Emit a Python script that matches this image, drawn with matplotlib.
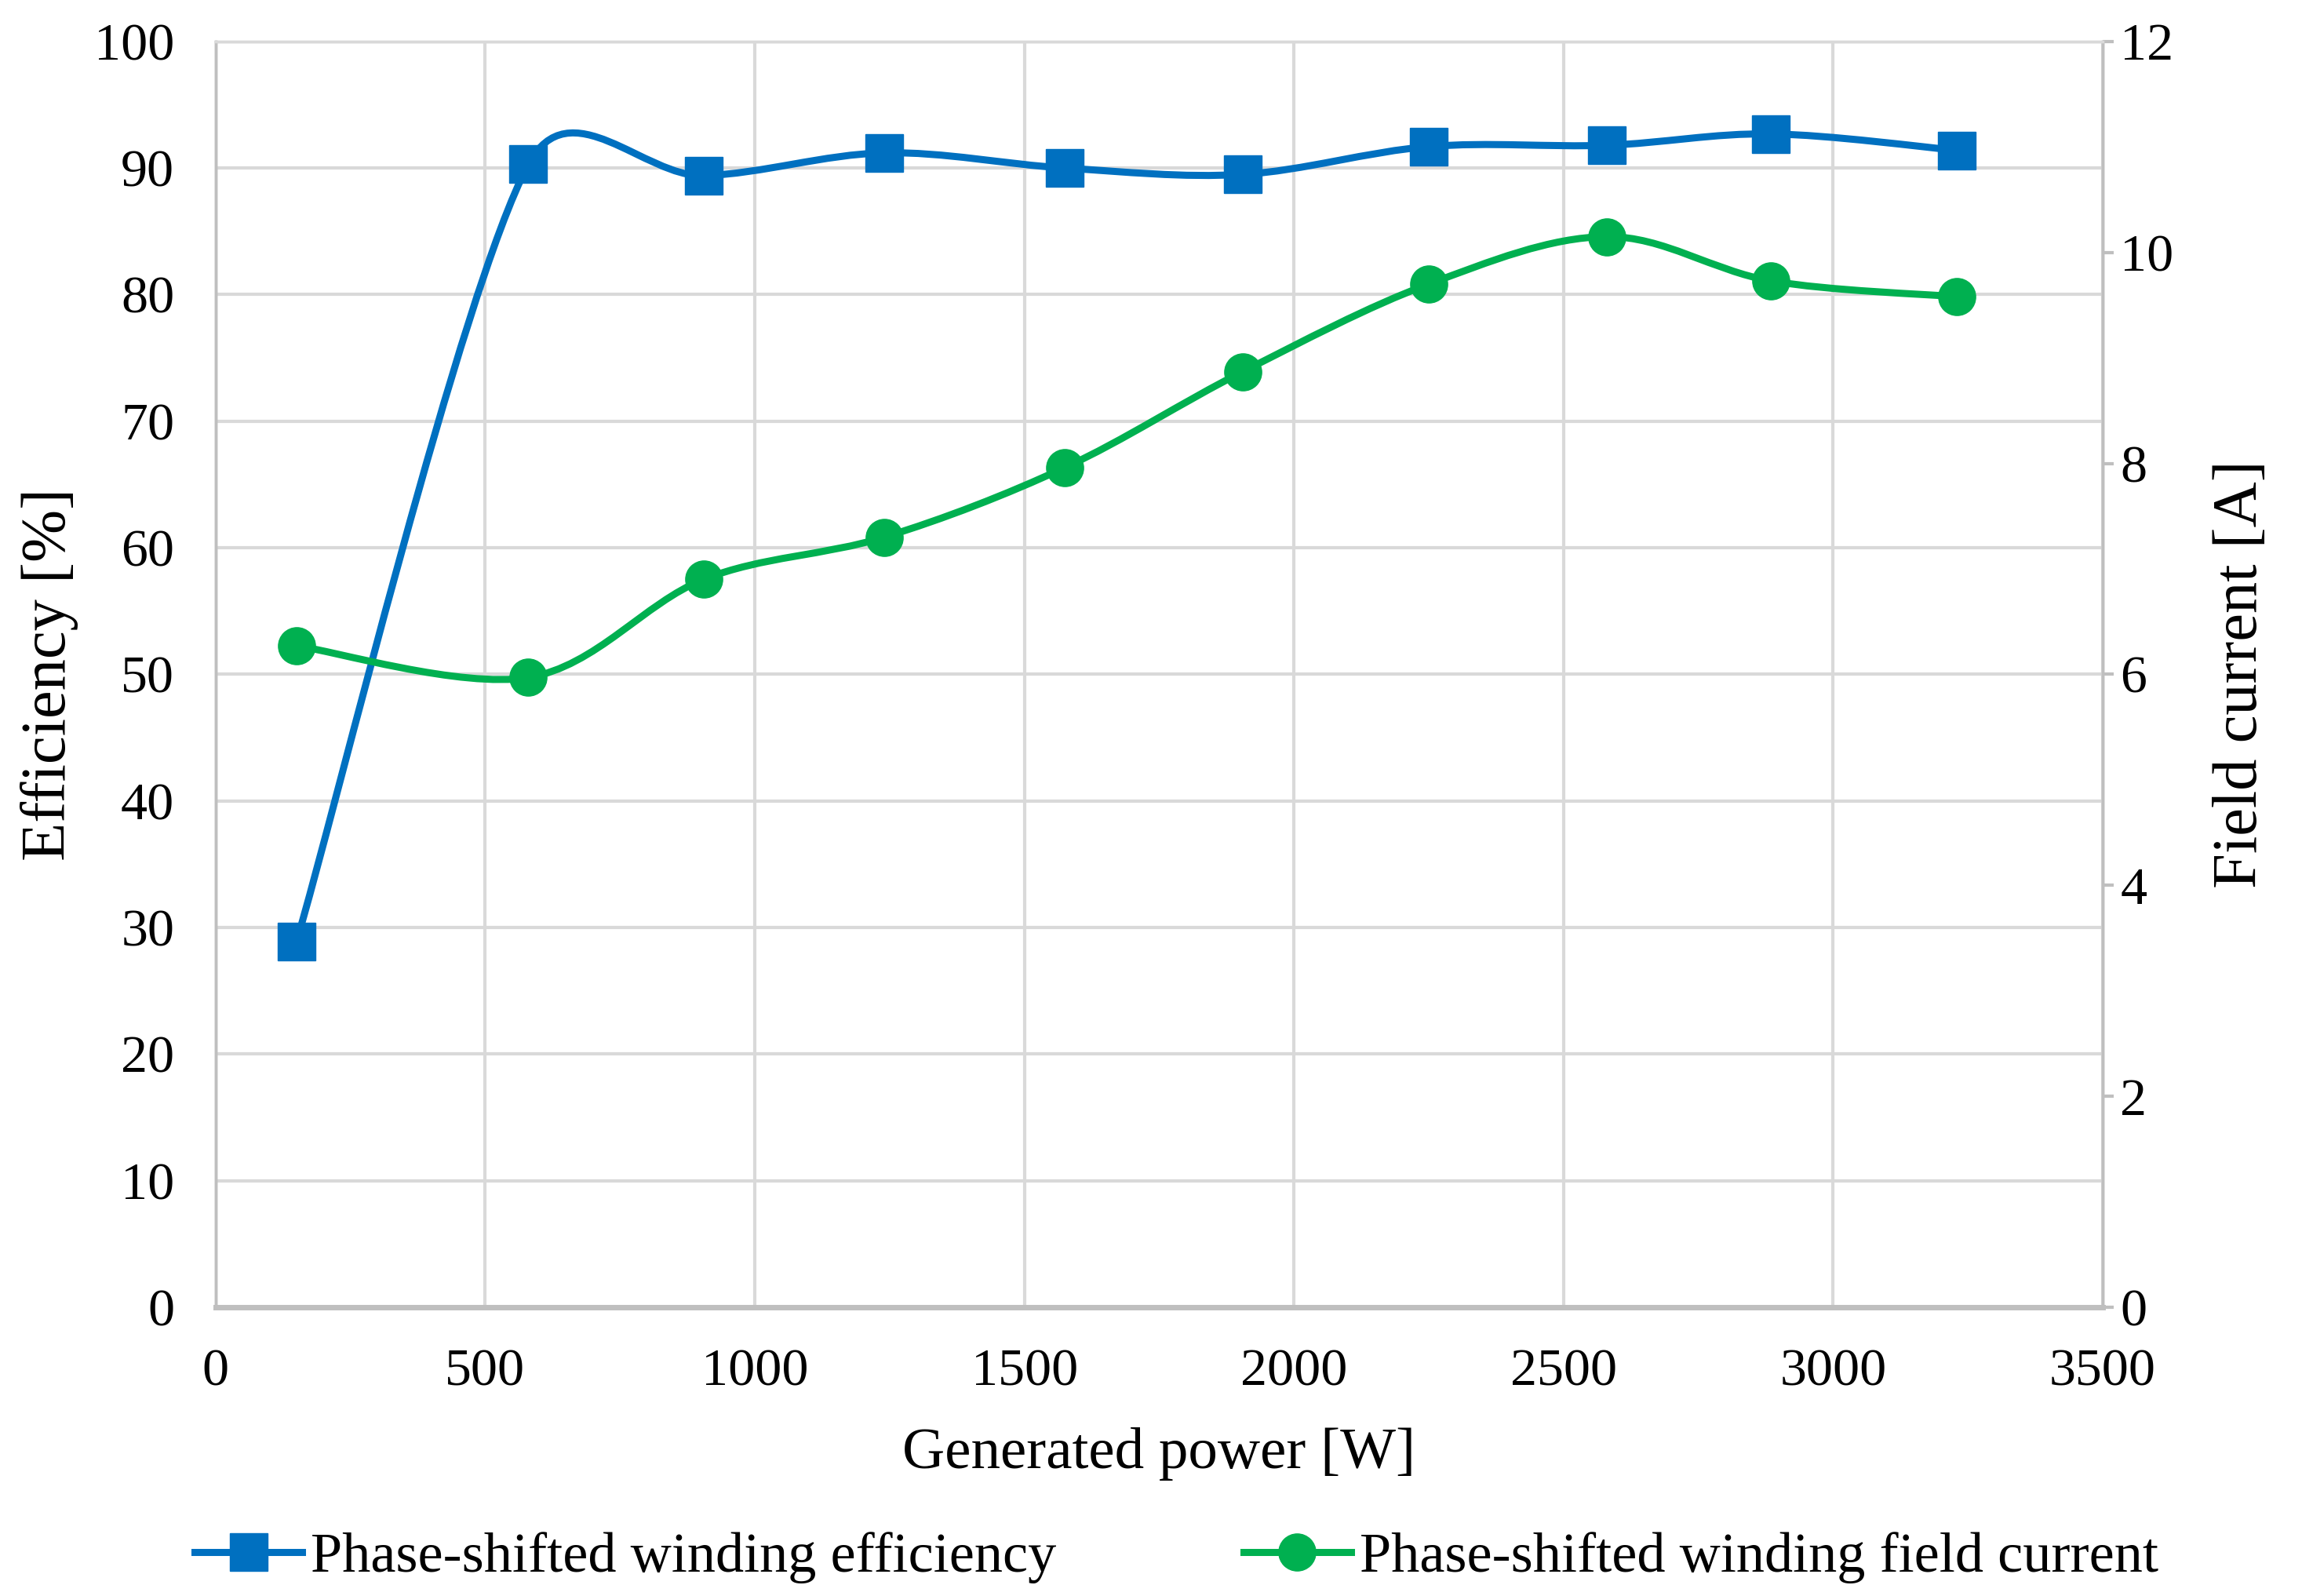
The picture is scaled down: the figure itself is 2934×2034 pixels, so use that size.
import numpy as np
import matplotlib
matplotlib.use('Agg')
import matplotlib.pyplot as plt
from matplotlib.path import Path
from matplotlib.patches import PathPatch
from matplotlib.lines import Line2D

# data
power = [150, 580, 905, 1240, 1575, 1905, 2250, 2580, 2885, 3230]
efficiency = [28.9, 90.3, 89.4, 91.2, 90.0, 89.5, 91.7, 91.8, 92.7, 91.4]
field_current = [6.27, 5.97, 6.90, 7.30, 7.96, 8.87, 9.70, 10.15, 9.73, 9.58]

x_ticks = [0, 500, 1000, 1500, 2000, 2500, 3000, 3500]
left_ticks = [0, 10, 20, 30, 40, 50, 60, 70, 80, 90, 100]
right_ticks = [0, 2, 4, 6, 8, 10, 12]

blue = '#0070C0'
green = '#00B050'
grid_col = '#D9D9D9'

plt.rcParams['font.family'] = ['Liberation Serif', 'DejaVu Serif']
fs_tick = 49
fs_lab = 54
fs_vlab = 58
fs_leg = 52


def smooth_path(a, xs, ys):
    # excel-like smoothing, done in pixel space then mapped back to data
    tr = a.transData
    p = tr.transform(np.column_stack([xs, ys]).astype(float))
    pts = np.vstack([p[0], p, p[-1]])
    verts = [p[0]]
    codes = [Path.MOVETO]
    for i in range(1, len(pts) - 2):
        p0, p1, p2, p3 = pts[i - 1], pts[i], pts[i + 1], pts[i + 2]
        d12 = np.hypot(*(p2 - p1))
        d02 = np.hypot(*(p2 - p0))
        d13 = np.hypot(*(p3 - p1))
        f0 = 1 / 6.0
        f1 = 1 / 6.0
        if d02 / 6.0 > d12 / 2.0 and d02 > 0:
            f0 = d12 / d02 / 2.0
        if d13 / 6.0 > d12 / 2.0 and d13 > 0:
            f1 = d12 / d13 / 2.0
        c1 = p1 + f0 * (p2 - p0)
        c2 = p2 - f1 * (p3 - p1)
        verts += [c1, c2, p2]
        codes += [Path.CURVE4] * 3
    verts = tr.inverted().transform(np.array(verts))
    return Path(verts, codes)


fig = plt.figure(figsize=(29.34, 20.34), dpi=100)
ax = fig.add_axes([0.0937, 0.181, 0.8197, 0.793])
ax2 = ax.twinx()

ax.set_xlim(0, 3500)
ax.set_ylim(0, 100)
ax2.set_ylim(0, 12)

ax.set_xticks(x_ticks)
ax.set_yticks(left_ticks)
ax2.set_yticks(right_ticks)

ax.grid(True, color=grid_col, linewidth=3)
ax.set_axisbelow(True)

for a in (ax, ax2):
    for s in a.spines.values():
        s.set_color('#BFBFBF')
        s.set_linewidth(2.5)
ax.spines['bottom'].set_linewidth(5)
ax.spines['top'].set_color(grid_col)
ax2.spines['top'].set_color(grid_col)

ax.tick_params(axis='y', length=0, labelsize=fs_tick, pad=38)
ax.tick_params(axis='x', length=0, labelsize=fs_tick, pad=38)
ax2.tick_params(axis='y', length=10, width=3, color='#BFBFBF', labelsize=fs_tick, pad=6)

# lines
ax.add_patch(PathPatch(smooth_path(ax, power, efficiency), facecolor='none',
                       edgecolor=blue, linewidth=6.5, zorder=3))
ax.plot(power, efficiency, linestyle='none', marker='s', markersize=34,
        color=blue, zorder=4)
ax2.add_patch(PathPatch(smooth_path(ax2, power, field_current), facecolor='none',
                        edgecolor=green, linewidth=6.5, zorder=3))
ax2.plot(power, field_current, linestyle='none', marker='o', markersize=34,
         color=green, zorder=4)

ax.set_xlabel('Generated power [W]', fontsize=fs_lab, labelpad=28)
ax.set_ylabel('Efficiency [%]', fontsize=fs_vlab, labelpad=14)
ax2.set_ylabel('Field current [A]', fontsize=fs_vlab, labelpad=36)

handles = [
    Line2D([], [], color=blue, linewidth=6.5, marker='s', markersize=34),
    Line2D([], [], color=green, linewidth=6.5, marker='o', markersize=34),
]
labels = ['Phase-shifted winding efficiency', 'Phase-shifted winding field current']
fig.legend(handles, labels, loc='center', bbox_to_anchor=(0.511, 0.024), ncol=2,
           frameon=False, fontsize=fs_leg, handlelength=1.9, handletextpad=0.15,
           columnspacing=3.3)

fig.savefig('out.png', dpi=100)
